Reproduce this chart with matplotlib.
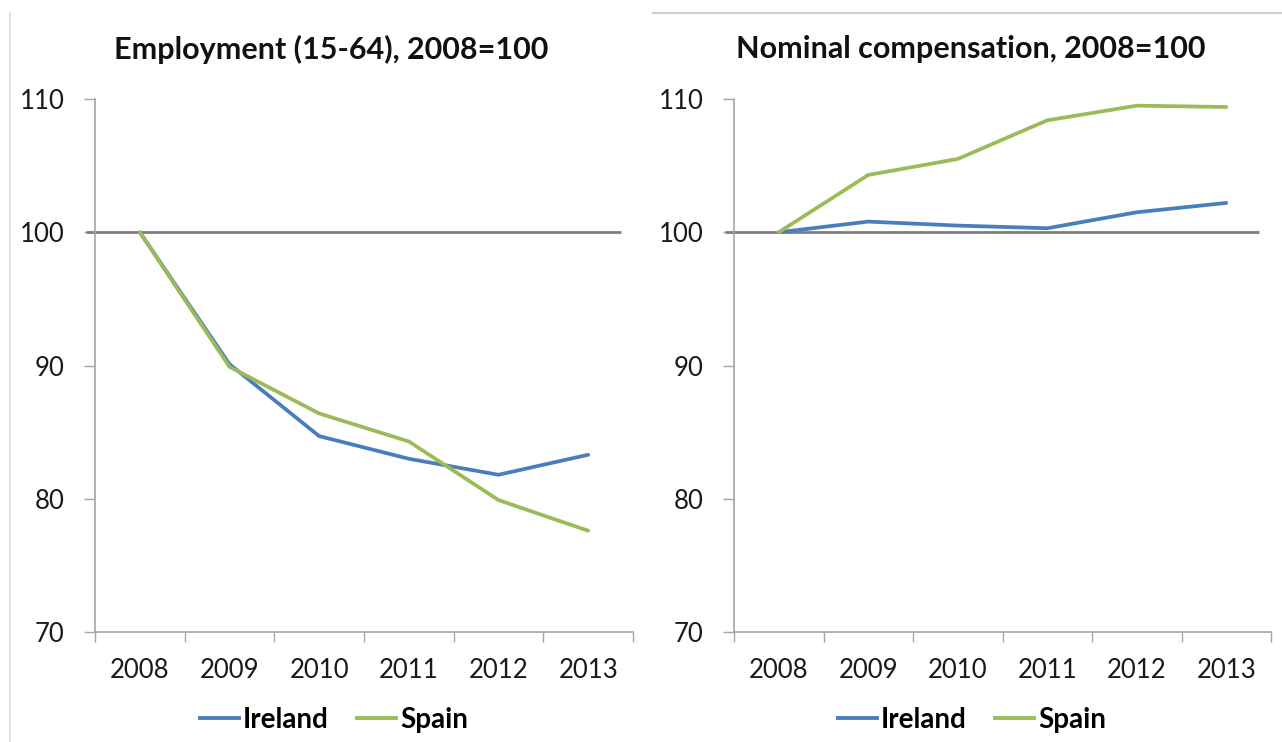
import matplotlib
matplotlib.use("Agg")
import matplotlib.pyplot as plt
from matplotlib.lines import Line2D

years = ["2008", "2009", "2010", "2011", "2012", "2013"]
emp_ireland = [100.0, 90.1, 84.7, 83.0, 81.8, 83.3]
emp_spain = [100.0, 89.9, 86.4, 84.3, 79.9, 77.6]
comp_ireland = [100.0, 100.8, 100.5, 100.3, 101.5, 102.2]
comp_spain = [100.0, 104.3, 105.5, 108.4, 109.5, 109.4]
titles = ["Employment (15-64), 2008=100", "Nominal compensation, 2008=100"]
yticks = [70, 80, 90, 100, 110]

BLUE = "#4A7EBB"
GREEN = "#9BBB59"
AXC = "#A6A6A6"

plt.rcParams['font.family'] = ['Lato', 'DejaVu Sans']

fig = plt.figure(figsize=(12.82, 7.42), dpi=100)
W, H = 1282, 742

def fx(px):
    return px / W

def fy(py):
    return 1 - py / H

panels = [
    (95, 633, titles[0], emp_ireland, emp_spain, 331, 334),
    (734, 1271, titles[1], comp_ireland, comp_spain, 971, 972),
]

top_px, bot_px = 99, 632
for left_px, right_px, title, ire, spa, tcx, lcx in panels:
    ax = fig.add_axes([fx(left_px), fy(bot_px), fx(right_px - left_px), (bot_px - top_px) / H])
    x = list(range(len(years)))
    ax.plot([-0.6, 5.37], [100, 100], color="#7F7F7F", lw=2.0, clip_on=False, zorder=2,
            solid_capstyle='butt')
    ax.plot(x, ire, color=BLUE, lw=2.7, label="Ireland", zorder=3, solid_capstyle='round')
    ax.plot(x, spa, color=GREEN, lw=2.7, label="Spain", zorder=4, solid_capstyle='round')
    ax.set_xlim(-0.5, 5.5)
    ax.set_ylim(70, 110)
    ax.set_yticks(yticks)
    ax.set_yticklabels([str(v) for v in yticks], fontsize=18.5, color="#1a1a1a")
    ax.set_xticks(x)
    ax.set_xticklabels(years, fontsize=18.5, color="#1a1a1a")
    ax.set_xticks([i - 0.5 for i in range(len(years) + 1)], minor=True)
    ax.tick_params(axis='x', which='major', length=0, pad=19)
    ax.tick_params(axis='x', which='minor', length=7, width=1, color=AXC, direction='out')
    ax.tick_params(axis='y', which='major', length=8, width=1, color=AXC, direction='out', pad=14)
    for s in ['top', 'right']:
        ax.spines[s].set_visible(False)
    for s in ['left', 'bottom']:
        ax.spines[s].set_color(AXC)
        ax.spines[s].set_linewidth(1.2)
    fig.text(fx(tcx), fy(49), title, ha='center', va='center', fontsize=22,
             fontweight='bold', color="#111111")
    handles = [Line2D([0], [0], color=BLUE, lw=2.8), Line2D([0], [0], color=GREEN, lw=2.8)]
    leg = fig.legend(handles, ["Ireland", "Spain"], loc='center',
                     bbox_to_anchor=(fx(lcx), fy(720)),
                     ncol=2, frameon=False, handlelength=1.4, handletextpad=0.15,
                     columnspacing=1.0, prop={'size': 20, 'weight': 'bold'})

# decorative borders
fig.add_artist(Line2D([fx(653), 1.0], [fy(13), fy(13)], color="#D0D0D0", lw=1.5))
fig.add_artist(Line2D([fx(10), fx(10)], [fy(13), 0.0], color="#DDDDDD", lw=1.2))

fig.savefig("out.png", dpi=100)
